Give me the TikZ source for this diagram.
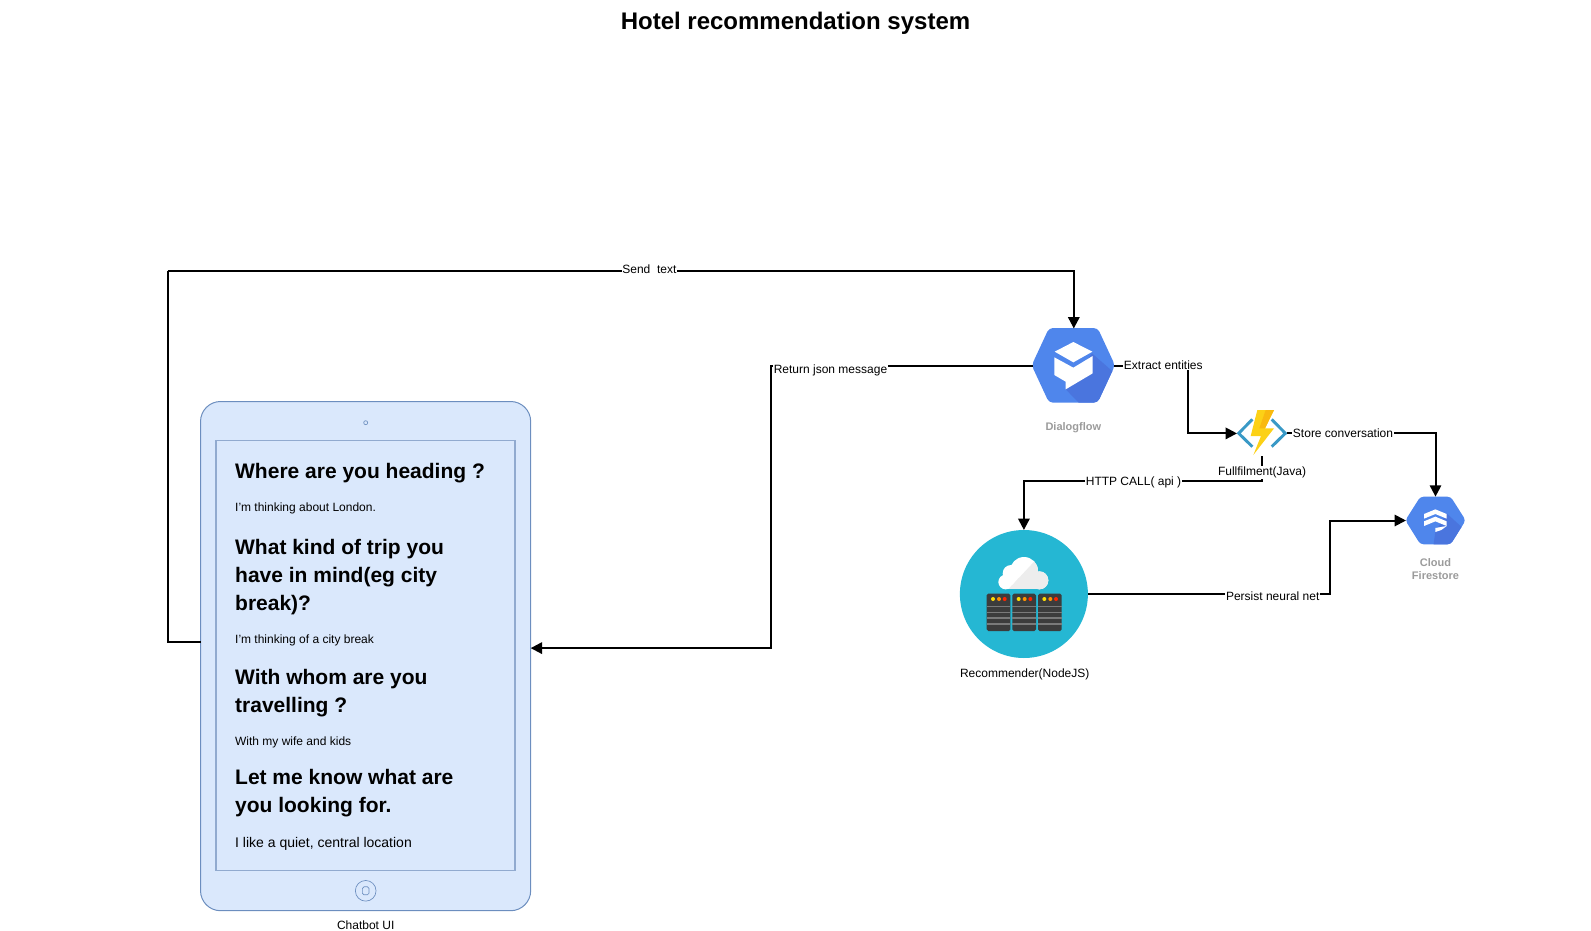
\documentclass[tikz,border=0pt]{standalone}
\usepackage{xcolor}
\usepackage{fontspec}
\setmainfont{Liberation Sans}
\usetikzlibrary{arrows.meta, positioning}
\definecolor{tabletfill}{HTML}{DAE8FC}
\definecolor{tabletline}{HTML}{6C8EBF}
\definecolor{gblue}{HTML}{4F86EC}
\definecolor{gblue2}{HTML}{4A75DE}
\definecolor{ink3}{HTML}{9B9B9B}
\definecolor{cyanbg}{HTML}{25B7D3}
\definecolor{rack}{HTML}{3C3C3C}
\definecolor{rack2}{HTML}{7A7A7A}
\definecolor{azblue}{HTML}{3999C6}
\definecolor{azyellow}{HTML}{FCD116}
\definecolor{azamber}{HTML}{F9B90F}
\newcommand{\cloudlobes}[1]{
  \fill[#1] (197,216) circle[radius=22];
  \fill[#1] (213,190) circle[radius=25];
  \fill[#1] (252,183) circle[radius=42];
  \fill[#1] (298,211) circle[radius=27];
  \fill[#1] (197,205) rectangle (298,238);
}
\tikzset{
  connector/.style={draw=black, line width=1.5pt, -{Triangle[length=8.5pt, width=8.5pt]}},
  plainlink/.style={draw=black, line width=1.5pt},
  linklabel/.style={fill=white, font=\fontsize{9}{11}\selectfont, inner sep=0.6pt, anchor=mid},
  caption/.style={font=\fontsize{9}{11}\selectfont, inner sep=0pt, anchor=mid},
  gcplabel/.style={font=\fontsize{8.25}{9.6}\selectfont\bfseries, color=ink3, align=center, inner sep=0pt},
  heading/.style={font=\fontsize{15.75}{19}\selectfont\bfseries, inner sep=0pt, anchor=mid west},
  answer/.style={font=\fontsize{9}{11}\selectfont, inner sep=0pt, anchor=mid west},
  anchorbox/.style={rectangle, inner sep=0pt, outer sep=0pt},
  cropped/.style={x=0.25pt, y=-0.25pt}
}
\begin{document}
\begin{tikzpicture}[x=0.75pt, y=-0.75pt]
    \useasboundingbox (0,0) rectangle (1591,931);
    \node[font=\fontsize{18}{22}\selectfont\bfseries, inner sep=0pt] (title) at (795.5,23) {Hotel recommendation system};
    % tablet
    \node[anchorbox, fill=tabletfill, draw=tabletline, line width=0.75pt, rounded corners=15pt,
      minimum width=247.6pt, minimum height=381.9pt] (tablet) at (365.6,656.1) {};
    \node[anchorbox, fill=tabletfill, draw=tabletline!75, line width=0.95pt,
      minimum width=224.2pt, minimum height=322.5pt] (screen) at (365.5,655.7) {};
    \node[circle, draw=tabletline, line width=0.5pt, inner sep=0pt, minimum size=3pt] (camera) at (365.7,422.7) {};
    \node[circle, draw=tabletline, line width=0.5pt, inner sep=0pt, minimum size=15.5pt] (homebtn) at (365.7,890.8) {};
    \node[anchorbox, draw=tabletline, line width=0.5pt, rounded corners=1.2pt,
      minimum width=5pt, minimum height=6pt] (homeinner) at (365.7,890.8) {};
    \node[caption] (tabletname) at (365.7,925.5) {Chatbot UI};
    % chat lines
    \foreach \nm/\y/\txt in {h1/474.8/{Where are you heading ?}, h2/551/{What kind of trip you},
      h3/579.3/{have in mind(eg city}, h4/607.2/{break)?}, h5/680.8/{With whom are you},
      h6/709.2/{travelling ?}, h7/781.3/{Let me know what are}, h8/809.3/{you looking for.}}{
      \node[heading] (\nm) at (234.9,\y) {\txt};
    }
    \foreach \nm/\y/\txt in {a1/508.4/{I'm thinking about London.}, a2/640.3/{I'm thinking of a city break},
      a3/742/{With my wife and kids}}{
      \node[answer] (\nm) at (234.9,\y) {\txt};
    }
    \node[answer, font=\fontsize{10.5}{13}\selectfont] (a4) at (234.9,843.7) {I like a quiet, central location};
    % dialogflow hexagon
    \node[anchorbox, minimum width=61pt, minimum height=56pt] (dialogflow) at (1073.8,365.8) {};
    \begin{scope}[shift={(1000,300)}, cropped]
      \begin{scope}
        \clip[rounded corners=3pt] (95,196) -- (147,84) -- (293,84) -- (345,196) -- (293,308) -- (147,308) -- cycle;
        \fill[gblue] (90,80) rectangle (350,312);
        \fill[gblue2] (276,160) -- (350,225) -- (350,312) -- (240,312) -- (197,268) -- cycle;
      \end{scope}
      \fill[white] (220,126) -- (277,155) -- (220,187) -- (164,155) -- cycle;
      \fill[white] (163,172) -- (220,203) -- (278,168) -- (278,220) -- (197,268) -- (197,245) -- (163,225) -- cycle;
    \end{scope}
    \node[gcplabel] (dialogflowname) at (1073.3,427.3) {Dialogflow};
    % function icon
    \node[anchorbox, minimum width=37.5pt, minimum height=34.5pt] (fullfil) at (1262,433.4) {};
    \begin{scope}[shift={(1000,300)}, cropped]
      \draw[azblue, line width=2.2pt] (757,358) -- (716,400) -- (757,440);
      \draw[azblue, line width=2.2pt] (815,358) -- (856,400) -- (815,440);
      \fill[azyellow] (772,330) -- (822,330) -- (795,385) -- (822,385) -- (760,465) -- (783,408) -- (752,408) -- cycle;
      \fill[azamber] (797,330) -- (822,330) -- (795,385) -- (778,385) -- cycle;
    \end{scope}
    % firestore hexagon
    \node[anchorbox, minimum width=44.3pt, minimum height=35.8pt] (firestore) at (1435.5,520.5) {};
    \begin{scope}[shift={(1220,400)}, cropped]
      \begin{scope}
        \clip[rounded corners=2.5pt] (556,361) -- (601,290) -- (692,290) -- (737,361) -- (692,433) -- (601,433) -- cycle;
        \fill[gblue] (550,285) rectangle (740,438);
        \fill[gblue2] (680,340) -- (740,395) -- (740,438) -- (640,438) -- (646,395) -- cycle;
      \end{scope}
      \fill[white] (612,342) -- (646,328) -- (680,342) -- (680,356) -- (646,342) -- (612,356) -- cycle;
      \fill[white] (612,364) -- (646,350) -- (680,364) -- (680,378) -- (646,364) -- (612,378) -- cycle;
      \fill[white] (646,384) -- (680,378) -- (664,390) -- (646,396) -- cycle;
    \end{scope}
    \node[gcplabel] (firestorename) at (1435.5,569) {Cloud\\Firestore};
    % recommender circle
    \node[circle, fill=cyanbg, inner sep=0pt, outer sep=0pt, minimum size=96pt] (recommender) at (1023.9,594) {};
    \begin{scope}[shift={(940,510)}, cropped]
      \begin{scope}
        \clip (170,135) rectangle (330,238);
        \cloudlobes{white}
        \clip (205,238) -- (285,152) -- (335,135) -- (335,240) -- cycle;
        \cloudlobes{black!7}
      \end{scope}
      \foreach \x in {140,217,294}{
        \fill[rack, rounded corners=1.2pt] (\x,251) rectangle ++(71,112);
        \foreach \s in {287,305,322,340}{
          \fill[rack2] (\x,\s) rectangle ++(71,5);
        }
        \fill[yellow!80!orange] (\x+19,267) circle[radius=6];
        \fill[orange!85!yellow] (\x+37,267) circle[radius=6];
        \fill[red!70!orange] (\x+54,267) circle[radius=6];
      }
    \end{scope}
    \node[caption] (recommendername) at (1024.7,674.2) {Recommender(NodeJS)};
    % connectors
    \coordinate (sendcorner) at (167.5,271);
    \draw[plainlink] ([yshift=10.5pt]tablet.west) -| (sendcorner);
    \draw[connector] (sendcorner) -| (dialogflow.north);
    \draw[connector] (dialogflow.west) -- ++(-261.8,0) |- ([yshift=6pt]tablet.east);
    \draw[connector] (dialogflow.east) -- ++(73.2,0) |- (fullfil.west);
    \draw[connector] (fullfil.east) -| (firestore.north);
    \draw[connector] (fullfil.south) -- ++(0,24.5) -| (recommender.north);
    \draw[connector] (recommender.east) -- ++(242.5,0) |- (firestore.west);
    % labels on top of the lines
    \node[linklabel] (sendlbl) at (649.4,270) {Send\ \ text};
    \node[linklabel] (returnlbl) at (830.5,370.4) {Return json message};
    \node[linklabel] (extractlbl) at (1163.3,366) {Extract entities};
    \node[linklabel] (storelbl) at (1343,434) {Store conversation};
    \node[linklabel] (httplbl) at (1133.5,482) {HTTP CALL( api )};
    \node[linklabel] (fullfillbl) at (1262,472) {Fullfilment(Java)};
    \node[linklabel] (persistlbl) at (1272.7,597) {Persist neural net};
  \end{tikzpicture}
\end{document}
